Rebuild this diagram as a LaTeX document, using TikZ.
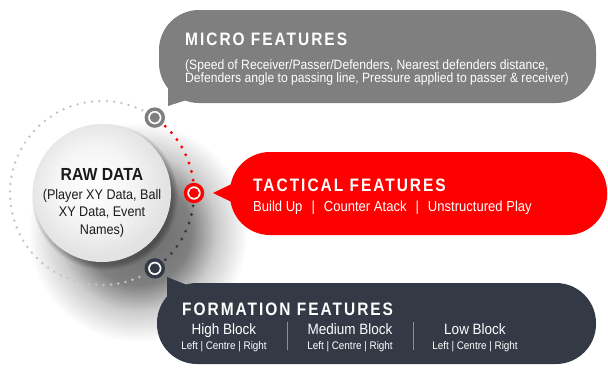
\documentclass[tikz,border=0pt]{standalone}
\usepackage{fontspec}
\setmainfont{Liberation Sans}[FakeStretch=0.9]
\newfontfamily\headfont{Liberation Sans}[FakeStretch=0.86, LetterSpace=11]
\definecolor{microgray}{HTML}{7F7F7F}
\definecolor{tacred}{HTML}{FF0000}
\definecolor{formdark}{HTML}{333A45}
\definecolor{ringgray}{HTML}{C4C4C4}
\definecolor{sepgray}{HTML}{8A9099}
\definecolor{rawtext}{HTML}{1A1A1A}
\pgfdeclareradialshading{castshadow}{\pgfpoint{0bp}{0bp}}{color(0bp)=(black!60); color(12bp)=(black!50); color(18bp)=(black!20); color(25bp)=(white); color(50bp)=(white)}
\pgfdeclareradialshading{rawfill}{\pgfpoint{-4bp}{4bp}}{color(0bp)=(white); color(14bp)=(black!4); color(25bp)=(black!11); color(50bp)=(black!11)}
\tikzset{
  bubble/.style={rounded corners=40pt},
  head/.style={font=\headfont\bfseries\fontsize{18}{18}\selectfont, text=white, inner sep=0pt},
  bodytxt/.style={font=\fontsize{13.5}{13.5}\selectfont, text=white, inner sep=0pt},
  tactxt/.style={font=\fontsize{14.5}{14.5}\selectfont, text=white, inner sep=0pt},
  blocktxt/.style={font=\fontsize{15}{15}\selectfont, text=white, inner sep=0pt},
  sidetxt/.style={font=\fontsize{11}{11}\selectfont, text=white, inner sep=0pt},
  rawtxt/.style={font=\fontsize{14}{14}\selectfont, text=rawtext, inner sep=0pt},
  target/.style={circle, minimum size=17pt, line width=3.4pt, draw=#1, fill=white, inner sep=0pt,
    path picture={\fill[#1] (path picture bounding box.center) circle (5pt);}},
}
\begin{document}
\begin{tikzpicture}[x=1pt,y=-1pt]
\useasboundingbox (0,0) rectangle (608,367);
\begin{scope}
\clip (0,0) rectangle (608,367);
% cast shadow
\shade[shading=castshadow] (138,232) circle (110pt);
% bubbles
\fill[microgray, bubble] (159,10) rectangle (596,103);
\fill[microgray] (168,80) -- (168,106) -- (196,97) -- (196,80) -- cycle;
\fill[tacred, bubble] (230,152) rectangle (607,235);
\fill[tacred] (240,180) -- (213,193) -- (240,206) -- cycle;
\fill[formdark, bubble] (157,283) rectangle (596,364);
\fill[formdark] (167,277) -- (192,287) -- (192,300) -- (167,300) -- cycle;
\end{scope}
% dotted ring
\coordinate (c) at (102,193);
\foreach \a in {64,68.6,...,297} \fill[ringgray, shift={(c)}] (\a:92pt) circle (1.35pt);
\foreach \a in {8,13.5,...,48} \fill[tacred, shift={(c)}] (\a:92pt) circle (1.6pt);
\foreach \a in {-8,-13.5,...,-48} \fill[formdark, shift={(c)}] (\a:92pt) circle (1.6pt);
% raw data circle with soft edge shadow
\foreach \i in {1,...,6} \fill[black, opacity=0.05] (105,197) circle (67pt+\i pt);
\shade[shading=rawfill] (102,193) circle (69pt);
\node[circle, minimum size=138pt, inner sep=0pt] (raw) at (102,193) {};
\node[rawtxt, font=\bfseries\fontsize{17.5}{17.5}\selectfont, anchor=base] (rawtitle) at (102,180) {RAW DATA};
\node[rawtxt, anchor=base] (raw1) at (102,199) {(Player XY Data, Ball};
\node[rawtxt, anchor=base] (raw2) at (102,216.5) {XY Data, Event};
\node[rawtxt, anchor=base] (raw3) at (102,234) {Names)};
% targets
\node[target=microgray] (tmicro) at (154.8,117.6) {};
\node[target=tacred] (ttac) at (194,193) {};
\node[target=formdark] (tform) at (154.8,268.4) {};
% micro texts
\node[head, anchor=base west] (microtitle) at (185,45) {MICRO FEATURES};
\node[bodytxt, anchor=base west] (micro1) at (185,69.5) {(Speed of Receiver/Passer/Defenders, Nearest defenders distance,};
\node[bodytxt, anchor=base west] (micro2) at (185,82.5) {Defenders angle to passing line, Pressure applied to passer \& receiver)};
% tactical texts
\node[head, anchor=base west] (tactitle) at (253,191.5) {TACTICAL FEATURES};
\node[tactxt, anchor=base west] (tacbody) at (253,211) {Build Up\hspace{9pt}|\hspace{9pt}Counter Atack\hspace{9pt}|\hspace{9pt}Unstructured Play};
% formation texts
\node[head, anchor=base west] (formtitle) at (182,315) {FORMATION FEATURES};
\node[blocktxt, anchor=base] (high) at (224,334) {High Block};
\node[sidetxt, anchor=base] (highs) at (224,349) {Left | Centre | Right};
\node[blocktxt, anchor=base] (med) at (350,334) {Medium Block};
\node[sidetxt, anchor=base] (meds) at (350,349) {Left | Centre | Right};
\node[blocktxt, anchor=base] (low) at (475,334) {Low Block};
\node[sidetxt, anchor=base] (lows) at (475,349) {Left | Centre | Right};
\coordinate (s1a) at (287,322); \coordinate (s1b) at (287,350);
\coordinate (s2a) at (413,322); \coordinate (s2b) at (413,350);
\draw[sepgray, line width=0.8pt] (s1a) -- (s1b);
\draw[sepgray, line width=0.8pt] (s2a) -- (s2b);
\end{tikzpicture}
\end{document}
